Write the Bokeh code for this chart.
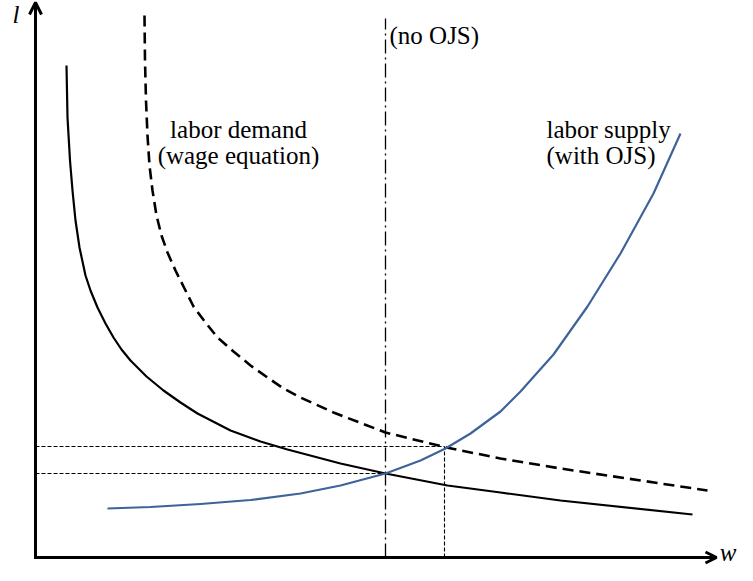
from bokeh.plotting import figure
from bokeh.models import Range1d, Arrow, OpenHead, Label
from bokeh.embed import file_html
from bokeh.resources import INLINE

# ---- data (w = wage, l = labor) ----
demand_w = [31, 32, 34.5, 37, 40, 44, 50, 55, 62, 70, 78, 86, 95, 111, 128, 145, 162, 195, 225, 252,
            305, 350, 412, 465, 525, 657]
demand_l = [492, 440, 397, 367, 337, 310, 282, 267, 250, 234, 220, 208, 197, 181, 167, 155, 144, 127, 116, 108,
            94, 84, 72, 65, 57, 43]

wage_eq_w = [109, 109.5, 110.5, 112, 114, 117, 121, 126, 132, 140, 149, 158, 170, 182, 198, 215, 232, 248,
             265, 298, 350, 411, 465, 525, 672]
wage_eq_l = [542, 497, 457, 422, 392, 367, 342, 322, 305, 287, 269, 251, 235, 220, 206, 192, 180, 169,
             160, 145, 125, 110, 99, 89, 67]

supply_w = [72, 115, 165, 215, 265, 305, 350, 385, 410, 435, 465, 485, 518, 552, 585, 618, 645]
supply_l = [49, 50.5, 53.5, 57.5, 64, 72, 84, 97, 109, 124, 146, 166, 203, 251, 304, 364, 424]

w_no_ojs = 350      # vertical dash-dot line
l_no_ojs = 84       # equilibrium without OJS
w_ojs = 409         # equilibrium with OJS
l_ojs = 111
l_top = 539         # top of the dash-dot line
axis_w_max = 681
axis_l_max = 555

FONT = "Liberation Serif"
BLUE = "#3d6399"

p = figure(width=737, height=565, x_range=Range1d(-35, 702), y_range=Range1d(-8, 557),
           output_backend="svg", toolbar_location=None, min_border=0,
           x_axis_type=None, y_axis_type=None)
p.grid.visible = False
p.outline_line_color = None
p.background_fill_color = "white"
p.border_fill_color = "white"

# reference lines
p.line([0, w_ojs], [l_ojs, l_ojs], line_color="black", line_width=1.1, line_dash="4 2")
p.line([0, w_no_ojs], [l_no_ojs, l_no_ojs], line_color="black", line_width=1.1, line_dash="4 2")
p.line([w_ojs, w_ojs], [0, l_ojs], line_color="black", line_width=1.1, line_dash="4 2")
p.line([w_no_ojs, w_no_ojs], [0, l_top], line_color="black", line_width=1.3, line_dash="14 4 2 4")

# curves
p.line(demand_w, demand_l, line_color="black", line_width=2.2, line_join="round")
p.line(wage_eq_w, wage_eq_l, line_color="black", line_width=2.6, line_dash="11 6")
p.line(supply_w, supply_l, line_color=BLUE, line_width=2.2, line_join="round")

# axes with arrows
p.add_layout(Arrow(end=OpenHead(size=12, line_width=3, line_color="black"),
                   x_start=0, y_start=-1.5, x_end=0, y_end=axis_l_max,
                   line_width=3, line_color="black"))
p.add_layout(Arrow(end=OpenHead(size=11, line_width=3, line_color="black"),
                   x_start=-1.5, y_start=0, x_end=axis_w_max, y_end=0,
                   line_width=3, line_color="black"))

# labels
def lab(x, y, t, align="left", style="normal", size="25px"):
    p.add_layout(Label(x=x, y=y, text=t, text_font=FONT, text_font_size=size,
                       text_font_style=style, text_align=align,
                       text_baseline="alphabetic", text_color="black"))

lab(203, 428, "labor demand", align="center")
lab(203, 402, "(wage equation)", align="center")
lab(511, 428, "labor supply")
lab(511, 402, "(with OJS)")
lab(354, 522, "(no OJS)")
lab(-23, 543, "l", style="italic")
lab(701, 5, "w", align="right", style="italic")

open("out.html", "w").write(file_html(p, INLINE))
